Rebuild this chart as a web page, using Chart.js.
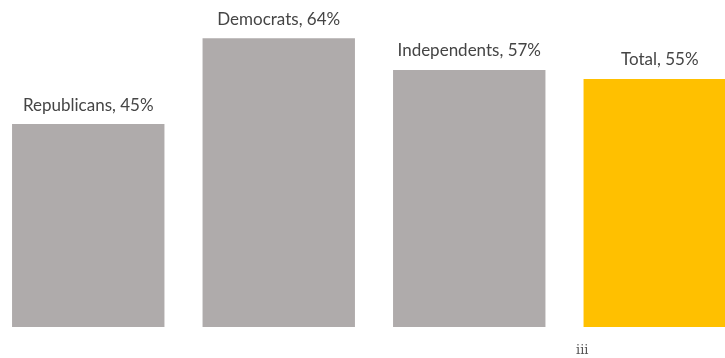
<!DOCTYPE html>
<html>
<head>
<meta charset="utf-8">
<script src="https://cdn.jsdelivr.net/npm/chart.js@4.4.0/dist/chart.umd.min.js"></script>
<style>
  html,body{margin:0;padding:0;background:#fff;overflow:hidden;width:725px;height:358px;}
  #wrap{position:absolute;left:-7px;top:0;width:762px;height:358px;}
  #note{position:absolute;left:576px;top:342px;font:13px "DejaVu Serif",serif;color:#555;line-height:15px;}
</style>
</head>
<body>
<div id="wrap"><canvas id="c" width="762" height="358"></canvas></div>
<div id="note">iii</div>
<script>
const categories = ["Republicans","Democrats","Independents","Total"];
const values = [45,64,57,55];
const barColors = ["#AFABAB","#AFABAB","#AFABAB","#FFC000"];

const labelPlugin = {
  id:"barLabels",
  afterDatasetsDraw(chart){
    const ctx = chart.ctx;
    const meta = chart.getDatasetMeta(0);
    ctx.save();
    ctx.font = '17px Lato, sans-serif';
    ctx.fillStyle = "#454545";
    ctx.textAlign = "center";
    ctx.textBaseline = "middle";
    meta.data.forEach((bar,i)=>{
      ctx.fillText(categories[i]+", "+values[i]+"%", bar.x, bar.y-19);
    });
    ctx.restore();
  }
};

new Chart(document.getElementById("c").getContext("2d"),{
  type:"bar",
  data:{labels:categories,datasets:[{data:values,backgroundColor:barColors,
    categoryPercentage:0.8,barPercentage:1.0,borderWidth:0}]},
  options:{
    responsive:false,animation:false,
    layout:{padding:{top:0,left:0,right:0,bottom:31}},
    plugins:{legend:{display:false},tooltip:{enabled:false}},
    scales:{
      x:{display:false},
      y:{display:false,min:0,max:72.5}
    }
  },
  plugins:[labelPlugin]
});
</script>
</body>
</html>
